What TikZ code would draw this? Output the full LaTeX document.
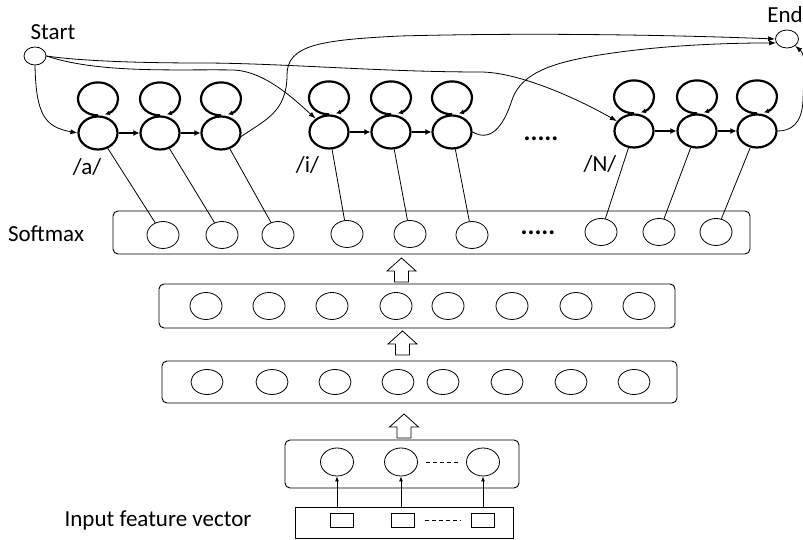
\documentclass[tikz,border=0pt]{standalone}
\usepackage{fontspec}
\setmainfont{Carlito}
\usetikzlibrary{arrows.meta,shapes.geometric,calc}

\begin{document}
\begin{tikzpicture}[x=1pt,y=1pt,
  state/.style={ellipse, draw, line width=2.2pt, minimum width=39pt, minimum height=33pt, inner sep=0pt},
  unit/.style={ellipse, draw, line width=0.8pt, minimum width=32pt, minimum height=27pt, inner sep=0pt},
  term/.style={ellipse, draw, line width=0.8pt, minimum width=22pt, minimum height=18pt, inner sep=0pt},
  layerbox/.style={draw, line width=0.9pt, rounded corners=5pt, inner sep=0pt},
  cell/.style={draw, line width=0.8pt, minimum width=23pt, minimum height=14pt, inner sep=0pt},
  lbl/.style={font=\fontsize{23}{26}\selectfont, inner sep=0pt},
  dots/.style={font=\fontsize{26}{28}\selectfont\bfseries, inner sep=0pt, anchor=base},
  thin/.style={line width=0.8pt},
  flow/.style={line width=0.8pt, -{Latex[length=7pt,width=5pt]}},
  feed/.style={line width=0.8pt, -{Latex[length=5pt,width=4pt]}},
  hop/.style={line width=2.2pt, -{Latex[length=6pt,width=6pt]}},
  selfloop/.style={line width=2.2pt, -{Latex[length=5pt,width=5pt]}},
  gapline/.style={line width=0.8pt, dash pattern=on 4pt off 3pt},
  uparrow/.pic={\draw[line width=0.8pt, fill=white]
      (-7,0) -- (7,0) -- (7,11) -- (14.5,11) -- (0,24) -- (-14.5,11) -- (-7,11) -- cycle;},
]
\fill[white] (0,0) rectangle (803,540);
\useasboundingbox (0,0) rectangle (803,540);
\clip (0,0) rectangle (803,540);

% ---------- layer boxes ----------
\node[layerbox, minimum width=637pt, minimum height=43pt] (smx) at (431.5,307.5) {};
\node[layerbox, minimum width=516pt, minimum height=44pt] (hid1) at (417,234) {};
\node[layerbox, minimum width=515pt, minimum height=42pt] (hid2) at (419.5,158) {};
\node[layerbox, minimum width=234pt, minimum height=48pt] (low) at (402,76) {};
\node[draw, line width=0.9pt, inner sep=0pt, minimum width=218pt, minimum height=31pt] (inp) at (404,17.5) {};

% ---------- softmax units ----------
\node[unit] (s1) at (163,305) {};
\node[unit] (s2) at (222,305) {};
\node[unit] (s3) at (278,305) {};
\node[unit] (s4) at (347,306) {};
\node[unit] (s5) at (410,306) {};
\node[unit] (s6) at (472,305) {};
\node[unit] (s7) at (601,308) {};
\node[unit] (s8) at (659,308) {};
\node[unit] (s9) at (716,308) {};
\node[dots] (sdots) at (538,305) {.....};

% ---------- hidden layers ----------
\foreach \x [count=\k] in {206,269,332,396,448,512,576,639}
  \node[unit] (p\k) at (\x,234) {};
\foreach \x [count=\k] in {207,272,335,398,443,507,571,634}
  \node[unit, minimum height=25pt] (q\k) at (\x,158) {};

% ---------- first layer and input vector ----------
\node[unit, minimum height=28pt, minimum width=33pt] (c1) at (337,78) {};
\node[unit, minimum height=28pt, minimum width=33pt] (c2) at (401,78) {};
\node[unit, minimum height=28pt, minimum width=33pt] (c3) at (483,78) {};
\draw[gapline] ([xshift=8pt]c2.east) -- ([xshift=-7pt]c3.west);

\node[cell] (r1) at (341.5,20) {};
\node[cell] (r2) at (403,20) {};
\node[cell] (r3) at (483,20) {};
\draw[gapline] ([xshift=10pt]r2.east) -- ([xshift=-11pt]r3.west);

\foreach \c in {c1,c2,c3}
  \draw[feed] (\c |- inp.north) -- (\c.south);

% ---------- hollow arrows between layers ----------
\pic at (401.5,258) {uparrow};
\pic at (402.5,185) {uparrow};
\pic at (404,102) {uparrow};

% ---------- HMM states ----------
\node[state] (a1) at (98,407) {};
\node[state] (a2) at (160,407) {};
\node[state] (a3) at (221,407) {};
\node[state] (i1) at (329,408) {};
\node[state] (i2) at (391,408) {};
\node[state] (i3) at (452,408) {};
\node[state] (n1) at (634,409) {};
\node[state] (n2) at (697,409) {};
\node[state] (n3) at (757,409) {};

\foreach \s in {a1,a2,a3,i1,i2,i3,n1,n2,n3}
  \draw[selfloop] (\s.north) arc[start angle=270, end angle=-70, x radius=20, y radius=16.5];

\draw[hop] (a1) -- (a2);
\draw[hop] (a2) -- (a3);
\draw[hop] (i1) -- (i2);
\draw[hop] (i2) -- (i3);
\draw[hop] (n1) -- (n2);
\draw[hop] (n2) -- (n3);

\node[lbl, anchor=base] (la) at (87,365) {/a/};
\node[lbl, anchor=base] (li) at (307.5,367) {/i/};
\node[lbl, anchor=base] (ln) at (600,368) {/N/};
\node[dots] (hdots) at (541,399) {.....};

% ---------- state outputs ----------
\draw[thin] (a1) -- (s1);
\draw[thin] (a2) -- (s2);
\draw[thin] (a3) -- (s3);
\draw[thin] (i1) -- (s4);
\draw[thin] (i2) -- (s5);
\draw[thin] (i3) -- (s6);
\draw[thin] (n1) -- (s7);
\draw[thin] (n2) -- (s8);
\draw[thin] (n3) -- (s9);

% ---------- start and end ----------
\node[term] (start) at (35,484) {};
\node[term, minimum width=23pt] (end) at (787,501) {};
\node[lbl, anchor=base] (lstart) at (53,500) {Start};
\node[lbl, anchor=base] (lend) at (785,517) {End};

\draw[flow] (start.south) .. controls (36,425) and (45,413) .. (a1.west);
\draw[flow] (start.east) .. controls (100,466) and (180,471) .. (233,470)
   .. controls (265,469) and (295,440) .. (i1.135);
\draw[flow] (start.east) .. controls (80,479) and (140,477) .. (200,477)
   .. controls (280,477) and (380,468) .. (480,468)
   .. controls (520,468) and (580,440) .. (n1.150);
\draw[flow] (a3.-10) .. controls (265,420) and (287,428) .. (287,465)
   .. controls (287,495) and (320,500) .. (400,504)
   .. controls (550,508) and (700,504) .. (end.west);
\draw[flow] (i3.east) .. controls (490,398) and (503,412) .. (512,440)
   .. controls (522,470) and (560,480) .. (620,488)
   .. controls (680,496) and (740,497) .. (end.200);
\draw[flow] (n3.east) .. controls (790,409) and (802,415) .. (803,440)
   .. controls (804,470) and (806,485) .. (end.-40);

% ---------- side labels ----------
\node[lbl, anchor=base] (lsoft) at (46,298) {Softmax};
\node[lbl, anchor=base] (linput) at (158,13) {Input feature vector};
\end{tikzpicture}
\end{document}
